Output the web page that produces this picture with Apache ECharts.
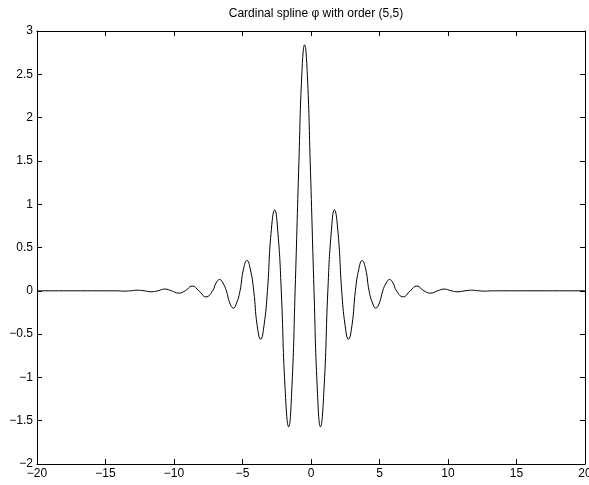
<!DOCTYPE html>
<html>
<head>
<meta charset="utf-8">
<script src="https://cdn.jsdelivr.net/npm/echarts@6/dist/echarts.min.js"></script>
<style>
html,body{margin:0;padding:0;background:#fff;}
#chart{width:589px;height:485px;}
</style>
</head>
<body>
<div id="chart"></div>
<script>
var titleText = 'Cardinal spline \u03C6 with order (5,5)';
var xTicks = [-20, -15, -10, -5, 0, 5, 10, 15, 20];
var yTicks = [-2, -1.5, -1, -0.5, 0, 0.5, 1, 1.5, 2, 2.5, 3];

var xs = [-20, -15, -14.18, -13.67, -13.18, -12.67, -12.18, -11.67, -11.18, -10.67, -10.18, -9.67, -9.18, -8.67, -8.18, -7.67, -7.18,
  -6.93, -6.67, -6.43, -6.18, -5.93, -5.67, -5.43, -5.18, -4.93, -4.67, -4.43, -4.18, -3.93, -3.67, -3.43, -3.18,
  -2.92, -2.65, -2.41, -2.17, -1.90, -1.63, -1.39, -1.16, -0.88, -0.67, -0.47, -0.27, -0.06, 0.22, 0.45, 0.69, 0.96,
  1.23, 1.47, 1.71, 1.98, 2.24, 2.49, 2.73, 2.99, 3.24, 3.49, 3.73, 3.99, 4.24, 4.49, 4.73, 4.99, 5.24, 5.49, 5.73, 5.99,
  6.24, 6.73, 7.24, 7.73, 8.24, 8.73, 9.24, 9.73, 10.24, 10.73, 11.24, 11.73, 12.24, 12.73, 13.24, 14, 20];
var ys = [0, 0, 0, -0.004, 0, 0.007, 0, -0.011, 0, 0.02, 0, -0.027, 0, 0.055, 0, -0.07, 0,
  0.09, 0.13, 0.09, 0, -0.14, -0.2, -0.14, 0, 0.25, 0.35, 0.25, 0, -0.4, -0.56, -0.4, 0,
  0.66, 0.935, 0.66, 0, -1.1, -1.57, -1.1, 0, 1.5, 2.5, 2.84, 2.5, 1.5, 0, -1.1, -1.57, -1.1,
  0, 0.66, 0.935, 0.66, 0, -0.4, -0.56, -0.4, 0, 0.25, 0.35, 0.25, 0, -0.14, -0.2, -0.14, 0, 0.09, 0.13, 0.09,
  0, -0.07, 0, 0.055, 0, -0.027, 0, 0.02, 0, -0.011, 0, 0.007, 0, -0.004, 0, 0, 0];

var data = xs.map(function (x, i) { return [x, ys[i]]; });
function fmt(v) { return String(v).replace('-', '\u2212'); }

var font = 'Liberation Sans, Arial, Helvetica, sans-serif';
var chart = echarts.init(document.getElementById('chart'), null, {renderer: 'canvas'});
var common = {
  axisLine: {show: true, onZero: false, lineStyle: {color: '#000', width: 1}},
  axisTick: {show: true, inside: true, length: 5, lineStyle: {color: '#000', width: 1}},
  splitLine: {show: false}
};
chart.setOption({
  animation: false,
  backgroundColor: '#fff',
  title: {
    text: titleText, left: 311, top: 3, textAlign: 'center',
    textStyle: {fontFamily: font, fontSize: 12, fontWeight: 'normal', color: '#000'}
  },
  grid: {left: 37, right: 4, top: 31, bottom: 21, containLabel: false, outerBoundsMode: 'none'},
  xAxis: [
    Object.assign({type: 'value', min: -20, max: 20, interval: 5, position: 'bottom',
      axisLabel: {show: true, margin: 4, color: '#000', fontFamily: font, fontSize: 12, formatter: fmt,
        customValues: xTicks}}, common),
    Object.assign({type: 'value', min: -20, max: 20, interval: 5, position: 'top',
      axisLabel: {show: false}}, common)
  ],
  yAxis: [
    Object.assign({type: 'value', min: -2, max: 3, interval: 0.5, position: 'left',
      axisLabel: {show: true, margin: 4, color: '#000', fontFamily: font, fontSize: 12, formatter: fmt,
        customValues: yTicks}}, common),
    Object.assign({type: 'value', min: -2, max: 3, interval: 0.5, position: 'right',
      axisLabel: {show: false}}, common)
  ],
  series: [{
    type: 'line', data: data, xAxisIndex: 0, yAxisIndex: 0,
    showSymbol: false, smooth: 0.5, clip: true,
    lineStyle: {color: '#000', width: 1}
  }]
});
</script>
</body>
</html>
